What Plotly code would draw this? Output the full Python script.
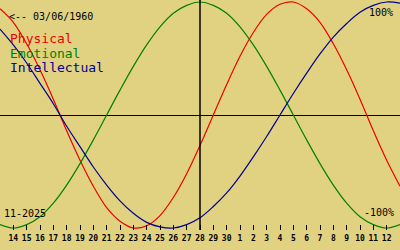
import pandas as pd
import plotly.graph_objects as go

# ---- data ----
dates = [d.strftime("%Y-%m-%d") for d in pd.date_range("2025-11-13", "2025-12-13")]
tick_dates = dates[1:-1]
tick_labels = [str(d) for d in list(range(14, 31)) + list(range(1, 13))]
today = "2025-11-28"

physical = [0.94, 0.82, 0.63, 0.40, 0.14, -0.14, -0.40, -0.63, -0.82, -0.94, -1.00,
            -0.98, -0.89, -0.73, -0.52, -0.27, 0.00, 0.27, 0.52, 0.73, 0.89, 0.98,
            1.00, 0.94, 0.82, 0.63, 0.40, 0.14, -0.14, -0.40, -0.63]
emotional = [-0.97, -1.00, -0.97, -0.90, -0.78, -0.62, -0.43, -0.22, 0.00, 0.22, 0.43,
             0.62, 0.78, 0.90, 0.97, 1.00, 0.97, 0.90, 0.78, 0.62, 0.43, 0.22, 0.00,
             -0.22, -0.43, -0.62, -0.78, -0.90, -0.97, -1.00, -0.97]
intellectual = [0.76, 0.62, 0.46, 0.28, 0.10, -0.10, -0.28, -0.46, -0.62, -0.76, -0.87,
                -0.95, -0.99, -1.00, -0.97, -0.91, -0.81, -0.69, -0.54, -0.37, -0.19,
                0.00, 0.19, 0.37, 0.54, 0.69, 0.81, 0.91, 0.97, 1.00, 0.99]

series_names = ["Physical", "Emotional", "Intellectual"]
series_colors = ["#ee0000", "#008000", "#000090"]
birth_label = "<-- 03/06/1960"
month_label = "11-2025"

BG = "#e1d282"
W, H = 400, 250
ML, MR, MT, MB = 0, 0, 0, 20
PW, PH = W - ML - MR, H - MT - MB
MONO = "DejaVu Sans Mono"


def px(x):
    return (x - ML) / PW


def py(y):
    return (MT + PH - y) / PH


fig = go.Figure()
for name, vals, col in zip(series_names, [physical, emotional, intellectual], series_colors):
    fig.add_trace(go.Scatter(x=dates, y=vals, mode="lines", name=name,
                             line=dict(color=col, width=1.2, shape="spline", smoothing=1),
                             hoverinfo="skip"))

fig.add_shape(type="line", xref="x", yref="paper", x0=today, x1=today, y0=0, y1=1,
              line=dict(color="black", width=1.5))

ann = []
ann.append(dict(text=birth_label, x=px(7), y=py(16), xanchor="left", yanchor="middle",
                font=dict(family=MONO, size=10, color="black")))
for i, (name, col) in enumerate(zip(series_names, series_colors)):
    ann.append(dict(text=name, x=px(8), y=py(38 + 15 * i), xanchor="left", yanchor="middle",
                    font=dict(family=MONO, size=13, color=col)))
ann.append(dict(text="100%", x=px(395), y=py(12), xanchor="right", yanchor="middle",
                font=dict(family=MONO, size=10, color="black")))
ann.append(dict(text="-100%", x=px(396), y=py(212), xanchor="right", yanchor="middle",
                font=dict(family=MONO, size=10, color="black")))
ann.append(dict(text=month_label, x=px(2), y=py(213), xanchor="left", yanchor="middle",
                font=dict(family=MONO, size=10, color="black")))
for a in ann:
    a.update(xref="paper", yref="paper", showarrow=False)

amp = 115 / 113
fig.update_layout(
    width=W, height=H,
    margin=dict(l=ML, r=MR, t=MT, b=MB, pad=0),
    paper_bgcolor=BG, plot_bgcolor=BG,
    showlegend=False,
    annotations=ann,
    xaxis=dict(type="date", range=[dates[0], dates[-1]], showgrid=False, zeroline=False,
               showline=False, tickmode="array", tickvals=tick_dates, ticktext=tick_labels,
               ticks="inside", ticklen=5, tickwidth=1, tickcolor="black",
               tickfont=dict(family=MONO, size=8, color="black", weight="bold"),
               ticklabelstandoff=2, tickangle=0),
    yaxis=dict(range=[-amp, amp], showgrid=False, showticklabels=False, ticks="",
               zeroline=True, zerolinecolor="black", zerolinewidth=1, showline=False),
)

fig.write_html("out.html")
